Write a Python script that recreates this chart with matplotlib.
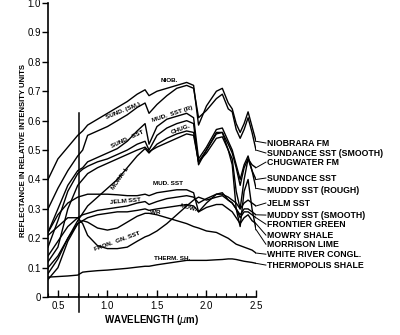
import matplotlib
matplotlib.use("Agg")
import matplotlib.pyplot as plt

plt.rcParams['font.family'] = ['Liberation Sans', 'DejaVu Sans']

# wavelength grid (um) shared by all spectra
wavelength = [0.4, 0.5, 0.6, 0.7, 0.75, 0.8, 0.9, 1.0, 1.1, 1.2, 1.3, 1.38, 1.42, 1.5,
              1.6, 1.7, 1.8, 1.87, 1.92, 2.0, 2.1, 2.16, 2.22, 2.26, 2.3, 2.34, 2.38,
              2.42, 2.46, 2.5]

niobrara = [0.40, 0.47, 0.51, 0.55, 0.565, 0.585, 0.605, 0.625, 0.645, 0.665, 0.69, 0.705,
            0.685, 0.70, 0.71, 0.72, 0.73, 0.72, 0.585, 0.65, 0.70, 0.71, 0.66, 0.64, 0.59,
            0.56, 0.59, 0.63, 0.58, 0.53]
sundance_smooth = [0.30, 0.37, 0.43, 0.48, 0.50, 0.55, 0.565, 0.58, 0.60, 0.62, 0.645, 0.66,
                   0.625, 0.655, 0.685, 0.71, 0.72, 0.71, 0.61, 0.635, 0.675, 0.69, 0.64, 0.63,
                   0.57, 0.54, 0.57, 0.61, 0.56, 0.50]
chugwater = [0.12, 0.17, 0.30, 0.38, 0.40, 0.42, 0.44, 0.455, 0.47, 0.485, 0.50, 0.51, 0.495,
             0.51, 0.525, 0.54, 0.555, 0.55, 0.46, 0.49, 0.54, 0.545, 0.50, 0.47, 0.36, 0.30,
             0.40, 0.47, 0.45, 0.44]
sundance = [0.17, 0.26, 0.36, 0.42, 0.435, 0.445, 0.46, 0.47, 0.485, 0.50, 0.52, 0.53, 0.50,
            0.55, 0.575, 0.59, 0.60, 0.59, 0.45, 0.50, 0.555, 0.56, 0.52, 0.49, 0.44, 0.38,
            0.44, 0.47, 0.43, 0.40]
muddy_rough = [0.22, 0.30, 0.38, 0.43, 0.44, 0.46, 0.475, 0.49, 0.505, 0.53, 0.565, 0.59, 0.52,
               0.58, 0.605, 0.615, 0.625, 0.61, 0.47, 0.51, 0.57, 0.575, 0.53, 0.50, 0.45, 0.40,
               0.45, 0.48, 0.43, 0.37]
jelm = [0.14, 0.19, 0.24, 0.27, 0.28, 0.285, 0.295, 0.30, 0.305, 0.31, 0.32, 0.325, 0.315,
        0.325, 0.335, 0.34, 0.345, 0.34, 0.32, 0.335, 0.35, 0.35, 0.34, 0.33, 0.32, 0.30, 0.32,
        0.33, 0.32, 0.31]
muddy_smooth = [0.22, 0.28, 0.32, 0.34, 0.345, 0.35, 0.35, 0.35, 0.348, 0.345, 0.345, 0.35,
                0.345, 0.355, 0.36, 0.365, 0.365, 0.355, 0.29, 0.32, 0.35, 0.355, 0.33, 0.32,
                0.30, 0.28, 0.30, 0.30, 0.29, 0.28]
frontier = [0.21, 0.24, 0.27, 0.27, 0.25, 0.21, 0.175, 0.165, 0.165, 0.17, 0.19, 0.205, 0.21,
            0.225, 0.25, 0.28, 0.31, 0.33, 0.34, 0.33, 0.34, 0.345, 0.33, 0.32, 0.30, 0.27,
            0.29, 0.29, 0.28, 0.27]
mowry = [0.08, 0.13, 0.20, 0.25, 0.26, 0.27, 0.28, 0.285, 0.29, 0.29, 0.295, 0.30, 0.295, 0.30,
         0.305, 0.31, 0.315, 0.31, 0.29, 0.305, 0.315, 0.315, 0.30, 0.29, 0.27, 0.25, 0.27,
         0.28, 0.26, 0.25]
morrison = [0.10, 0.14, 0.20, 0.26, 0.285, 0.31, 0.34, 0.37, 0.40, 0.44, 0.48, 0.505, 0.49,
            0.52, 0.54, 0.555, 0.565, 0.56, 0.46, 0.50, 0.56, 0.56, 0.50, 0.45, 0.30, 0.24,
            0.36, 0.40, 0.30, 0.23]
white_river = [0.06, 0.10, 0.19, 0.25, 0.26, 0.255, 0.235, 0.228, 0.235, 0.255, 0.275, 0.285,
               0.285, 0.28, 0.27, 0.26, 0.25, 0.24, 0.235, 0.225, 0.22, 0.21, 0.20, 0.19, 0.18,
               0.175, 0.17, 0.165, 0.16, 0.15]
thermopolis = [0.068, 0.07, 0.072, 0.075, 0.085, 0.087, 0.09, 0.092, 0.095, 0.098, 0.102,
               0.105, 0.105, 0.11, 0.115, 0.12, 0.125, 0.125, 0.125, 0.125, 0.127, 0.128, 0.13,
               0.13, 0.128, 0.125, 0.122, 0.12, 0.118, 0.115]

spectra = [niobrara, sundance_smooth, chugwater, sundance, muddy_rough, jelm, muddy_smooth,
           frontier, mowry, morrison, white_river, thermopolis]
end_labels = ['NIOBRARA FM', 'SUNDANCE SST (SMOOTH)', 'CHUGWATER FM', 'SUNDANCE SST',
              'MUDDY SST (ROUGH)', 'JELM SST', 'MUDDY SST (SMOOTH)', 'FRONTIER GREEN',
              'MOWRY SHALE', 'MORRISON LIME', 'WHITE RIVER CONGL.', 'THERMOPOLIS SHALE']
end_label_y = [0.524, 0.490, 0.459, 0.405, 0.364, 0.320, 0.279, 0.248, 0.211, 0.180, 0.146, 0.109]

# short labels written on the curves: text, x, y, rotation
curve_tags = [('NIOB.', 1.62, 0.738, 0), ('SUND. (SM.)', 1.16, 0.632, 22),
              ('MUD.  SST (R)', 1.66, 0.622, 18), ('CHUG.', 1.74, 0.573, 20),
              ('SUND.  SST', 1.20, 0.537, 25), ('MORR. L', 1.13, 0.405, 55),
              ('MUD. SST', 1.61, 0.388, 0), ('JELM SST', 1.18, 0.328, 5),
              ('MOW.', 1.82, 0.305, -15), ('WR', 1.48, 0.287, 0),
              ('FRON.  GN. SST', 1.10, 0.190, 20), ('THERM. SH.', 1.65, 0.133, 0)]

fig = plt.figure(figsize=(4, 3.35), dpi=100)
ax = fig.add_axes([0.12, 0.113, 0.52, 0.878])

for values in spectra:
    ax.plot(wavelength, values, color='black', linewidth=1.0)

for values, label, ly in zip(spectra, end_labels, end_label_y):
    ax.plot([2.5, 2.6], [values[-1], ly], color='black', linewidth=0.7, clip_on=False)
    ax.text(2.61, ly, label, fontsize=6.3, fontweight='bold', va='center', ha='left')

for text, x, y, rot in curve_tags:
    ax.text(x, y, text, fontsize=4.6, fontweight='bold', rotation=rot,
            ha='center', va='center')

# vertical marker line
ax.plot([0.712, 0.712], [-0.05, 0.626], color='black', linewidth=1.1, clip_on=False)

ax.set_xlim(0.4, 2.5)
ax.set_ylim(0, 1.0)
ax.set_xticks([0.5, 1.0, 1.5, 2.0, 2.5])
ax.set_xticklabels(['0.5', '1.0', '1.5', '2.0', '2.5'])
ax.set_xticks([x / 10 for x in range(4, 26)], minor=True)
ax.set_yticks([i / 10 for i in range(11)])
ax.set_yticklabels(['0'] + ['%.1f' % (i / 10) for i in range(1, 11)])
ax.tick_params(axis='x', direction='in', length=5, width=1, labelsize=7, pad=3)
ax.tick_params(axis='x', which='minor', direction='in', length=3, width=0.8)
ax.tick_params(axis='y', direction='out', length=4, width=1, labelsize=7, pad=1)
for s in ['top', 'right']:
    ax.spines[s].set_visible(False)
for s in ['left', 'bottom']:
    ax.spines[s].set_linewidth(1.2)

ax.set_xlabel('WAVELENGTH ($\\mu$m)', fontsize=7, fontweight='bold', labelpad=1)
ax.set_ylabel('REFLECTANCE IN RELATIVE INTENSITY UNITS', fontsize=5.6, fontweight='bold')
ax.yaxis.set_label_coords(-0.10, 0.5)

fig.savefig('out.png', dpi=100)
